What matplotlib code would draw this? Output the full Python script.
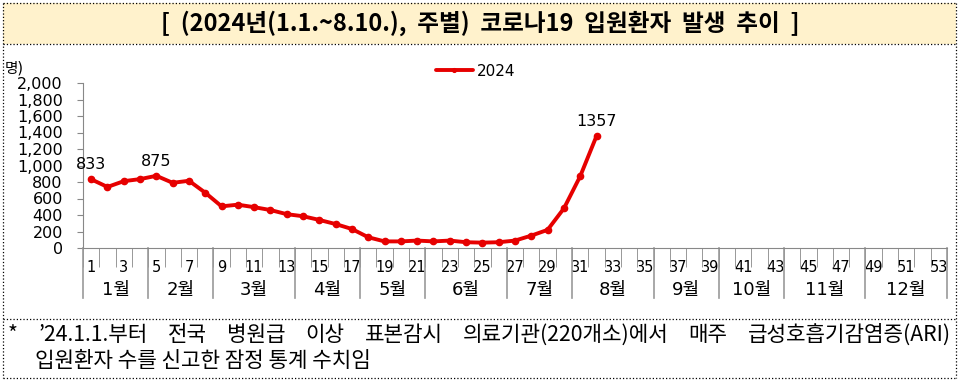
import matplotlib
matplotlib.use("Agg")
import matplotlib.pyplot as plt
from matplotlib.lines import Line2D
from matplotlib.patches import Rectangle
import matplotlib.transforms as mtransforms

plt.rcParams['font.family'] = ['DejaVu Sans', 'Noto Sans CJK KR']

# Data
weeks = list(range(1, 33))
patients = [833, 740, 810, 835, 875, 790, 815, 670, 505, 525, 495, 460,
            410, 385, 340, 290, 230, 130, 80, 80, 90, 80, 90, 70,
            65, 70, 90, 150, 220, 480, 870, 1357]
labeled_weeks = [1, 5, 32]
months = ['1월', '2월', '3월', '4월', '5월', '6월', '7월', '8월', '9월', '10월', '11월', '12월']
month_edges = [0.5, 4.5, 8.5, 13.5, 17.5, 21.5, 26.5, 30.5, 35.5, 39.5, 43.5, 48.5, 53.5]
yticks = list(range(0, 2001, 200))

title = '[  (2024년(1.1.~8.10.),  주별)  코로나19  입원환자  발생  추이  ]'
note_words = ['*', '’24.1.1.부터', '전국', '병원급', '이상', '표본감시', '의료기관(220개소)에서',
              '매주', '급성호흡기감염증(ARI)']
note_line2 = '입원환자 수를 신고한 잠정 통계 수치임'

W, H = 959, 380
fig = plt.figure(figsize=(W / 100, H / 100), dpi=100)

def fx(px):
    return px / W

def fy(py):
    return 1 - py / H

# title band
fig.add_artist(Rectangle((fx(3), fy(44)), fx(953), 41 / H, transform=fig.transFigure,
                         facecolor='#FFF2CC', edgecolor='none', zorder=0))
fig.text(fx(480), fy(23), title, ha='center', va='center', fontsize=17, fontweight='bold',
         family=['Noto Sans CJK KR', 'DejaVu Sans'])

# dotted frame
for y in [3, 44, 319, 378]:
    fig.add_artist(Line2D([fx(3), fx(956)], [fy(y), fy(y)], transform=fig.transFigure,
                          color='black', lw=0.9, ls=':'))
for x in [3, 956]:
    fig.add_artist(Line2D([fx(x), fx(x)], [fy(3), fy(378)], transform=fig.transFigure,
                          color='black', lw=0.9, ls=':'))

# chart
ax = fig.add_axes([fx(83), fy(248), 864 / W, 165 / H])
ax.plot(weeks, patients, color='#E60000', lw=2.8, marker='o', markersize=4.5,
        solid_capstyle='round', label='2024', zorder=3)
for w in labeled_weeks:
    ax.annotate(f'{patients[w - 1]}', (w, patients[w - 1]), xytext=(0, 5),
                textcoords='offset points', ha='center', va='bottom', fontsize=11.5)

ax.set_xlim(0.5, 53.5)
ax.set_ylim(0, 2000)
ax.set_yticks(yticks)
ax.set_yticklabels([f'{v:,}' for v in yticks], fontsize=11.5)
ax.tick_params(axis='y', length=4.5, color='#888888', pad=10)

ax.set_xticks(range(1, 54, 2))
ax.set_xticklabels([str(i) for i in range(1, 54, 2)], fontsize=10.5)
ax.set_xticks([i + 0.5 for i in range(0, 54)], minor=True)
ax.tick_params(axis='x', which='major', length=0, pad=9)
ax.tick_params(axis='x', which='minor', length=14, color='#888888', direction='out')

for s in ['top', 'right']:
    ax.spines[s].set_visible(False)
for s in ['left', 'bottom']:
    ax.spines[s].set_color('#888888')

trans = mtransforms.blended_transform_factory(ax.transData, ax.transAxes)
for e in month_edges:
    ax.add_line(Line2D([e, e], [0, -50 / 165], transform=trans, color='#999999',
                       lw=1.2, clip_on=False))
for i, m in enumerate(months):
    mid = (month_edges[i] + month_edges[i + 1]) / 2
    ax.text(mid, -42 / 165, m, transform=trans, ha='center', va='center', fontsize=13)

fig.legend(loc='center', bbox_to_anchor=(fx(476), fy(71)), frameon=False, fontsize=11,
           handlelength=2.4, handletextpad=0.3, markerscale=0.6)

fig.text(fx(5), fy(68), '명)', ha='left', va='center', fontsize=10.5)

# footnote, first line justified
note_kw = dict(fontsize=15.3, family=['Noto Sans CJK KR', 'DejaVu Sans'], va='center', ha='left')
texts = [fig.text(0, fy(335), w, **note_kw) for w in note_words]
renderer = fig.canvas.get_renderer()
widths = [t.get_window_extent(renderer).width for t in texts]
x0, x1 = 8, 951
gap = (x1 - x0 - sum(widths)) / (len(texts) - 1)
x = x0
for t, wd in zip(texts, widths):
    t.set_x(fx(x))
    x += wd + gap
fig.text(fx(35), fy(361), note_line2, **note_kw)

fig.savefig('out.png', dpi=100)
